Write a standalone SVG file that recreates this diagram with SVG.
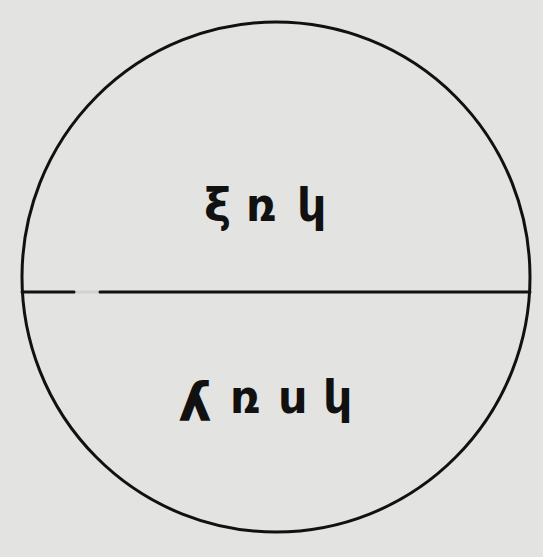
<svg xmlns="http://www.w3.org/2000/svg" width="543" height="557" viewBox="0 0 543 557">
<style>
.shape{fill:none;stroke:#111;stroke-width:3;stroke-linecap:round}
.lbl{font-family:"DejaVu Sans","Noto Sans",sans-serif;font-size:46px;font-weight:bold;fill:#111}
</style>
<rect width="543" height="557" fill="#e3e3e1"/>
<g id="circle">
<ellipse class="shape" cx="276" cy="277" rx="254" ry="255"/>
</g>
<g id="connectors">
<line class="shape" x1="22" y1="292" x2="74" y2="292"/>
<line class="shape" x1="74" y1="292" x2="100" y2="292" stroke-opacity="0.08"/>
<line class="shape" x1="100" y1="292" x2="530" y2="292"/>
</g>
<g id="top-label">
<text class="lbl" x="204 246 297" y="221">ξռկ</text>
</g>
<g id="bottom-label">
<text class="lbl" transform="scale(-1,1)" x="-212" y="421" style="font-size:54px">λ</text>
<text class="lbl" x="230 278 323" y="413">ռսկ</text>
</g>
</svg>
